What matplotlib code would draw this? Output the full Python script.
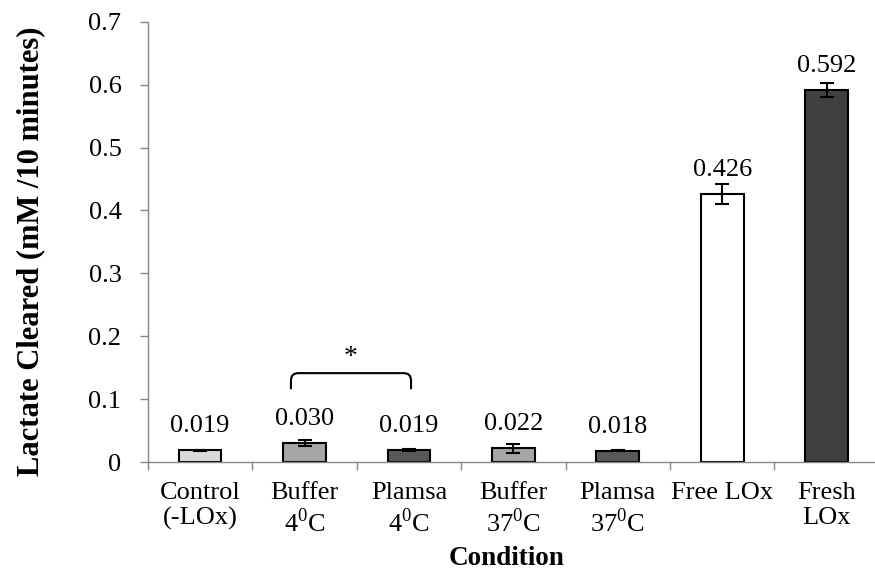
import numpy as np
import matplotlib
matplotlib.use("Agg")
import matplotlib.pyplot as plt
from matplotlib.path import Path
from matplotlib.patches import PathPatch

plt.rcParams['font.family'] = ['Liberation Serif', 'DejaVu Serif']
plt.rcParams['mathtext.fontset'] = 'custom'
plt.rcParams['mathtext.rm'] = 'Liberation Serif'

# data
conditions = ['Control\n(-LOx)', 'Buffer\n4$^{0}$C', 'Plamsa\n4$^{0}$C',
              'Buffer\n37$^{0}$C', 'Plamsa\n37$^{0}$C', 'Free LOx\n', 'Fresh\nLOx']
values = [0.019, 0.030, 0.019, 0.022, 0.018, 0.426, 0.592]
errors = [0.001, 0.005, 0.0015, 0.007, 0.001, 0.016, 0.011]
labels = ['0.019', '0.030', '0.019', '0.022', '0.018', '0.426', '0.592']
colors = ['#d9d9d9', '#a6a6a6', '#595959', '#a6a6a6', '#595959', '#ffffff', '#404040']

fig = plt.figure(figsize=(8.75, 5.72), dpi=100)
ax = fig.add_axes([0.169, 0.192, 0.8354, 0.770])

x = np.arange(len(values))
ax.bar(x, values, width=0.41, color=colors, edgecolor='black', linewidth=1.5,
       yerr=errors, error_kw=dict(ecolor='black', elinewidth=1.5, capsize=5, capthick=1.5))

# value labels sit a fixed distance above the bar top (not the error bar)
for xi, v, t in zip(x, values, labels):
    ax.annotate(t, xy=(xi, v), xytext=(0, 13), textcoords='offset points',
                ha='center', va='baseline', fontsize=19)

# significance bracket between Buffer 4C and Plasma 4C
b0, b1, ylo, yhi = 0.87, 2.02, 0.116, 0.1415
r = 0.012
verts = [(b0, ylo), (b0, yhi - r), (b0, yhi), (b0 + 0.07, yhi),
         (b1 - 0.07, yhi), (b1, yhi), (b1, yhi - r), (b1, ylo)]
codes = [Path.MOVETO, Path.LINETO, Path.CURVE3, Path.CURVE3,
         Path.LINETO, Path.CURVE3, Path.CURVE3, Path.LINETO]
ax.add_patch(PathPatch(Path(verts, codes), fill=False, edgecolor='black', linewidth=1.5))
ax.text((b0 + b1) / 2, 0.166, '*', ha='center', va='center', fontsize=20)

ax.set_xlim(-0.5, 6.5)
ax.set_ylim(0, 0.7)
ax.set_yticks(np.arange(0, 0.71, 0.1))
ax.set_yticklabels(['0', '0.1', '0.2', '0.3', '0.4', '0.5', '0.6', '0.7'])
ax.set_xticks(x)
ax.set_xticklabels(conditions, fontsize=19, linespacing=1.2)
ax.set_xticks(np.arange(-0.5, 6.5, 1), minor=True)
ax.tick_params(axis='x', which='major', length=0, pad=14)
ax.tick_params(axis='x', which='minor', length=6, color='#868686', width=1)
ax.tick_params(axis='y', labelsize=19, length=6, color='#868686', width=1, pad=13)

for s in ['top', 'right']:
    ax.spines[s].set_visible(False)
for s in ['left', 'bottom']:
    ax.spines[s].set_color('#868686')
    ax.spines[s].set_linewidth(1)

ax.set_xlabel('Condition', fontsize=19.5, fontweight='bold')
ax.xaxis.set_label_coords(0.49, -0.19)
ax.set_ylabel('Lactate Cleared (mM /10 minutes)', fontsize=22, fontweight='bold')
ax.yaxis.set_label_coords(-0.14, 0.48)

fig.savefig('out.png', dpi=100)
